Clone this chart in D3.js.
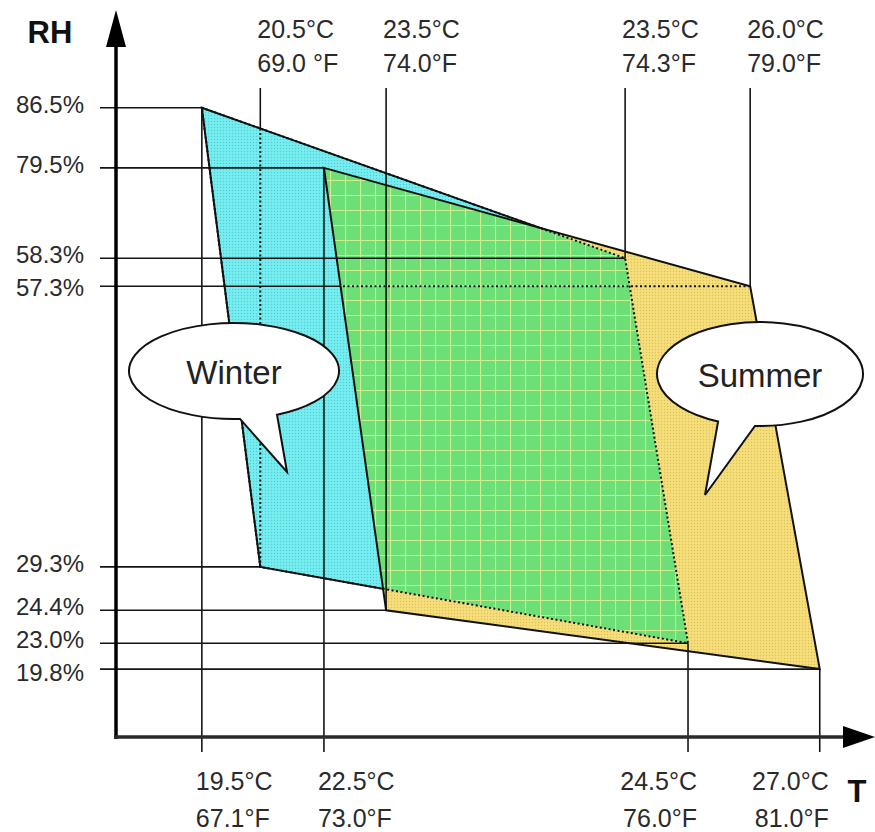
<!DOCTYPE html>
<html>
<head>
<meta charset="utf-8">
<script src="https://cdn.jsdelivr.net/npm/d3@7"></script>
<style>
  html, body { margin: 0; padding: 0; background: #fff; }
  svg { display: block; font-family: "Liberation Sans", Arial, sans-serif; }
</style>
</head>
<body>
<div id="chart"></div>
<script>
var width = 875
var height = 832

// temperature ticks (diagram is schematic, so each tick has its own spot on the T axis)
var tempC = ["19.5", "20.5", "22.5", "23.5", "23.5", "24.5", "26.0", "27.0"]
var tempF = ["67.1", "69.0 ", "73.0", "74.0", "74.3", "76.0", "79.0", "81.0"]
var tempAt = [11.6, 19.5, 28.1, 36.5, 68.8, 77.3, 85.7, 95.1]
var tempSide = ["bottom", "top", "bottom", "top", "top", "bottom", "top", "bottom"]

// relative humidity ticks
var rhValues = [86.5, 79.5, 58.3, 57.3, 29.3, 24.4, 23.0, 19.8]
var rhAt = [89.9, 81.3, 68.4, 64.4, 24.3, 18.1, 13.4, 9.7]

// comfort zones, corners as [temp index, rh index]
var winter = [[0, 0], [4, 2], [5, 6], [1, 4]]
var summer = [[2, 1], [6, 3], [7, 7], [3, 5]]

var seasons = ["Winter", "Summer"]

var x = d3.scaleLinear().domain([0, 100]).range([116, 856])
var y = d3.scaleLinear().domain([0, 100]).range([737, 37])

var svg = d3.select('#chart')
    .append('svg')
    .attr('width', width)
    .attr('height', height)

function corner(c) { return [x(tempAt[c[0]]), y(rhAt[c[1]])] }
var winterPts = winter.map(corner)
var summerPts = summer.map(corner)
var line = d3.line()
function poly(pts) { return line(pts) + 'Z' }

var defs = svg.append('defs')

var pc = defs.append('pattern').attr('id', 'cyanDots')
    .attr('patternUnits', 'userSpaceOnUse').attr('width', 3).attr('height', 3)
pc.append('rect').attr('width', 3).attr('height', 3).attr('fill', '#76eef0')
pc.append('circle').attr('cx', 1.5).attr('cy', 1.5).attr('r', 0.7).attr('fill', '#52cdd6')

var py = defs.append('pattern').attr('id', 'yellowDots')
    .attr('patternUnits', 'userSpaceOnUse').attr('width', 3).attr('height', 3)
py.append('rect').attr('width', 3).attr('height', 3).attr('fill', '#f6df7a')
py.append('circle').attr('cx', 1.5).attr('cy', 1.5).attr('r', 0.7).attr('fill', '#dcbf58')

var pg = defs.append('pattern').attr('id', 'greenGrid')
    .attr('patternUnits', 'userSpaceOnUse').attr('width', 15).attr('height', 15)
pg.append('rect').attr('width', 15).attr('height', 15).attr('fill', '#6cdf76')
pg.append('path').attr('d', 'M0.5,0V15M0,0.5H15')
    .attr('stroke', '#cdef8e').attr('stroke-width', 1.2)

defs.append('clipPath').attr('id', 'inWinter').append('path').attr('d', poly(winterPts))
defs.append('clipPath').attr('id', 'inSummer').append('path').attr('d', poly(summerPts))

function outsideMask(id, pts) {
    var m = defs.append('mask').attr('id', id).attr('maskUnits', 'userSpaceOnUse')
        .attr('x', 0).attr('y', 0).attr('width', width).attr('height', height)
    m.append('rect').attr('width', width).attr('height', height).attr('fill', 'white')
    m.append('path').attr('d', poly(pts)).attr('fill', 'black')
}
outsideMask('outWinter', winterPts)
outsideMask('outSummer', summerPts)

// zone fills
svg.append('path').attr('d', poly(winterPts)).attr('fill', 'url(#cyanDots)')
svg.append('path').attr('d', poly(summerPts)).attr('fill', 'url(#yellowDots)')
svg.append('path').attr('d', poly(summerPts)).attr('fill', 'url(#greenGrid)')
    .attr('clip-path', 'url(#inWinter)')

// guide lines from each corner
var guides = []
winter.concat(summer).forEach(function (c) {
    var p = corner(c)
    guides.push({ x1: 100, y1: p[1], x2: p[0], y2: p[1], dotIn: c[1] === 3 ? 'Summer' : null })
    if (tempSide[c[0]] === 'top') {
        guides.push({ x1: p[0], y1: 88, x2: p[0], y2: p[1], dotIn: c[0] === 1 ? 'Winter' : null })
    } else {
        guides.push({ x1: p[0], y1: p[1], x2: p[0], y2: 752, dotIn: null })
    }
})

var g = svg.append('g').attr('stroke', '#151515').attr('stroke-width', 1.6)
guides.forEach(function (d) {
    var l = g.append('line')
        .attr('x1', d.x1).attr('y1', d.y1).attr('x2', d.x2).attr('y2', d.y2)
    if (d.dotIn) {
        l.attr('mask', 'url(#out' + d.dotIn + ')')
        g.append('line')
            .attr('x1', d.x1).attr('y1', d.y1).attr('x2', d.x2).attr('y2', d.y2)
            .attr('stroke-dasharray', '2,2.5')
            .attr('stroke-width', 2)
            .attr('clip-path', 'url(#in' + d.dotIn + ')')
    }
})

// zone outlines: winter edges that run inside summer are dotted
svg.append('path').attr('d', poly(winterPts))
    .attr('fill', 'none').attr('stroke', '#111').attr('stroke-width', 2)
    .attr('stroke-dasharray', '2,2.5')
svg.append('path').attr('d', poly(winterPts))
    .attr('fill', 'none').attr('stroke', '#111').attr('stroke-width', 2)
    .attr('mask', 'url(#outSummer)')
svg.append('path').attr('d', poly(summerPts))
    .attr('fill', 'none').attr('stroke', '#111').attr('stroke-width', 2)

// axes
svg.append('line').attr('x1', 116).attr('y1', 739).attr('x2', 116).attr('y2', 40)
    .attr('stroke', '#000').attr('stroke-width', 3.5)
svg.append('path').attr('d', 'M106,47L126,47L116,10Z').attr('fill', '#000')
svg.append('line').attr('x1', 114).attr('y1', 737).attr('x2', 846).attr('y2', 737)
    .attr('stroke', '#2a2a2a').attr('stroke-width', 3.5)
svg.append('path').attr('d', 'M843,726L843,748L875,737Z').attr('fill', '#000')

svg.append('text').attr('x', 50).attr('y', 43).attr('text-anchor', 'middle')
    .attr('font-size', 31).attr('font-weight', 'bold').attr('fill', '#111').text('RH')
svg.append('text').attr('x', 857).attr('y', 802).attr('text-anchor', 'middle')
    .attr('font-size', 31).attr('font-weight', 'bold').attr('fill', '#111').text('T')

// RH labels, pushed down where they would collide
var lastBase = -100
rhValues.forEach(function (v, i) {
    var base = Math.max(y(rhAt[i]) + 5, lastBase + 33)
    lastBase = base
    svg.append('text').attr('x', 84).attr('y', base).attr('text-anchor', 'end')
        .attr('font-size', 24).attr('fill', '#2a2a2a')
        .text(v.toFixed(1) + '%')
})

// temperature labels
tempC.forEach(function (c, i) {
    var px = x(tempAt[i])
    var t = svg.append('text').attr('font-size', 25).attr('fill', '#2a2a2a')
    if (tempSide[i] === 'top') {
        t.attr('x', px - 3).attr('text-anchor', 'start')
        t.append('tspan').attr('x', px - 3).attr('y', 38).text(c + '°C')
        t.append('tspan').attr('x', px - 3).attr('y', 72).text(tempF[i] + '°F')
    } else {
        var left = px < x(50)
        var tx = left ? px - 6 : px + 9
        t.attr('text-anchor', left ? 'start' : 'end')
        t.append('tspan').attr('x', tx).attr('y', 790).text(c + '°C')
        t.append('tspan').attr('x', tx).attr('y', 827).text(tempF[i] + '°F')
    }
})

// speech bubbles
var bubbles = [
    { cx: 234, cy: 371, rx: 105, ry: 48, a1: 65.8, a2: 86.7, tip: [287, 472] },
    { cx: 760, cy: 374, rx: 103, ry: 52, a1: 92.8, a2: 114, tip: [705, 495] }
]
bubbles.forEach(function (b, i) {
    function pt(a) {
        var r = a * Math.PI / 180
        return [b.cx + b.rx * Math.cos(r), b.cy + b.ry * Math.sin(r)]
    }
    var p1 = pt(b.a1), p2 = pt(b.a2)
    var d = 'M' + p1[0] + ',' + p1[1] +
        'A' + b.rx + ',' + b.ry + ' 0 1 0 ' + p2[0] + ',' + p2[1] +
        'L' + b.tip[0] + ',' + b.tip[1] + 'Z'
    svg.append('path').attr('d', d).attr('fill', '#fff')
        .attr('stroke', '#111').attr('stroke-width', 2).attr('stroke-linejoin', 'miter')
    svg.append('text').attr('x', b.cx).attr('y', b.cy + 13).attr('text-anchor', 'middle')
        .attr('font-size', 33).attr('fill', '#222').text(seasons[i])
})
</script>
</body>
</html>
